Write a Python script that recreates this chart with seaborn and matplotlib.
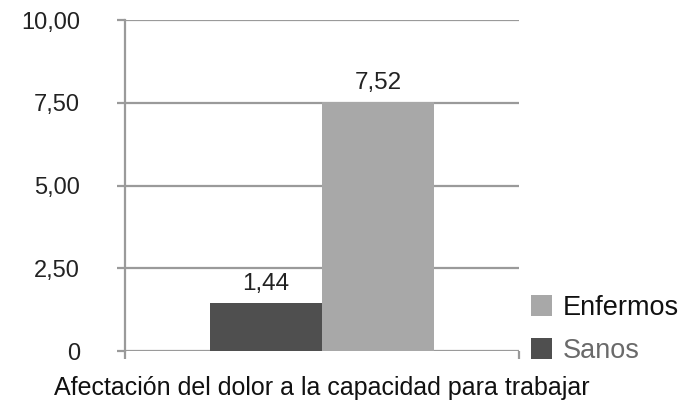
import matplotlib
matplotlib.use("Agg")
import matplotlib.pyplot as plt
import seaborn as sns
import pandas as pd
from matplotlib.patches import Patch

# Data
category = ["Afectación del dolor a la capacidad para trabajar"]
groups = ["Sanos", "Enfermos"]
values = [1.44, 7.52]
value_labels = ["1,44", "7,52"]
ytick_values = [0, 2.5, 5.0, 7.5, 10.0]
ytick_labels = ["0", "2,50", "5,00", "7,50", "10,00"]

colors = {"Sanos": "#4f4f4f", "Enfermos": "#a8a8a8"}

df = pd.DataFrame({
    "categoria": category * len(groups),
    "grupo": groups,
    "valor": values,
})

sns.set_theme(style="white")
plt.rcParams["font.family"] = ["Liberation Sans", "DejaVu Sans"]

fig = plt.figure(figsize=(6.9, 4.01), dpi=100)
ax = fig.add_axes([125 / 690, 1 - 351 / 401, (519 - 125) / 690, (351 - 20) / 401])

sns.barplot(data=df, x="categoria", y="valor", hue="grupo", hue_order=groups,
            palette=colors, width=0.57, saturation=1, ax=ax, legend=False,
            edgecolor="none", linewidth=0)
ax.set_xlim(-0.5, 0.5)
ax.set_ylim(0, 10)

# Horizontal gridlines and axis styling
ax.set_yticks(ytick_values)
ax.set_yticklabels(ytick_labels)
ax.yaxis.grid(True, color="#9a9a9a", linewidth=1.6)
ax.set_axisbelow(True)
for side in ["top", "right", "bottom"]:
    ax.spines[side].set_visible(False)
ax.spines["left"].set_color("#9a9a9a")
ax.spines["left"].set_linewidth(1.6)
ax.tick_params(axis="y", which="major", length=6, width=1.6, color="#9a9a9a",
               pad=26.5, labelsize=17, labelcolor="#222222", left=True)

# Category boundary ticks on the x axis
ax.set_xticks([0])
ax.set_xticklabels([""])
ax.set_xticks([-0.5, 0.5], minor=True)
ax.tick_params(axis="x", which="major", length=0)
ax.tick_params(axis="x", which="minor", length=6, width=1.6, color="#9a9a9a",
               bottom=True)
ax.set_xlabel(category[0], fontsize=18, color="#111111", va="baseline")
ax.xaxis.set_label_coords(0.5, (351 - 395) / 331)
ax.set_ylabel("")

# Value labels above each bar
for bar, lab in zip(ax.patches, value_labels):
    ax.annotate(lab, (bar.get_x() + bar.get_width() / 2, bar.get_height()),
                xytext=(0, 6), textcoords="offset points", ha="center",
                va="bottom", fontsize=17.5, color="#222222")

# Legend (Enfermos on top, Sanos below)
handles = [Patch(facecolor=colors["Enfermos"], edgecolor="none"),
           Patch(facecolor=colors["Sanos"], edgecolor="none")]
leg = fig.legend(handles, ["Enfermos", "Sanos"], loc="upper left",
                 bbox_to_anchor=(531 / 690, 1 - 295 / 401), frameon=False,
                 handlelength=0.78, handleheight=0.78, handletextpad=0.38,
                 labelspacing=0.62, borderaxespad=0, borderpad=0,
                 prop={"family": "Liberation Sans", "size": 19.5})
leg.get_texts()[0].set_color("#111111")
leg.get_texts()[1].set_color("#6a6a6a")

fig.savefig("out.png", dpi=100)
